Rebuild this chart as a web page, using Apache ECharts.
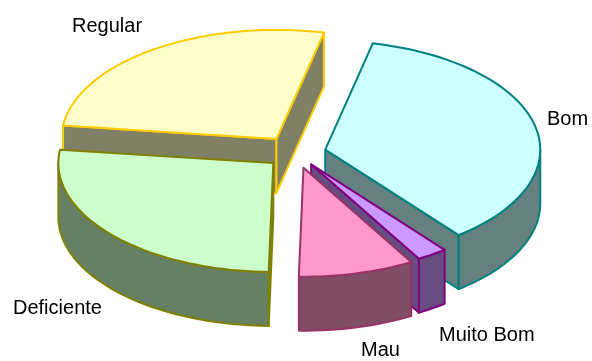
<!DOCTYPE html>
<html>
<head>
<meta charset="utf-8">
<style>html,body{margin:0;padding:0;background:#fff}#c{width:592px;height:361px}</style>
<script src="https://cdn.jsdelivr.net/npm/echarts@6/dist/echarts.min.js"></script>
</head>
<body>
<div id="c"></div>
<script>
// Drawn back to front, clockwise from the start of "Regular"
const categories = ['Regular', 'Bom', 'Muito Bom', 'Mau', 'Deficiente'];
const shareValues = [26.6, 35.8, 2.3, 8.7, 26.6];

const topColors = ['#FFFFCC', '#CCFFFF', '#CC99FF', '#FF99CC', '#CCFFCC'];
const sideColors = ['#808066', '#668080', '#664C80', '#804C66', '#668066'];
const edgeColors = ['#FFCC00', '#008080', '#800080', '#993366', '#808000'];
const explodeBy = [34, 30, 27, 30, 30];
const labelAt = [[72, 26], [547, 119], [439, 335], [361, 350], [13, 308]];

const START_DEG = 277, CX = 296, CY = 153, RX = 215, RY = 109, DEPTH = 54;
const total = shareValues.reduce((a, b) => a + b, 0);
const rad = d => d * Math.PI / 180;

function renderItem(params, api) {
  const i = params.dataIndex;
  let before = 0;
  for (let j = 0; j < i; j++) before += shareValues[j];
  let a0 = START_DEG + before / total * 360;
  let a1 = a0 + api.value(0) / total * 360;
  if (a0 >= 360) { a0 -= 360; a1 -= 360; }
  const mid = (a0 + a1) / 2;
  const ax = CX + Math.sin(rad(mid)) * explodeBy[i];
  const ay = CY - Math.cos(rad(mid)) * explodeBy[i] * RY / RX;
  const pt = a => [ax + Math.sin(rad(a)) * RX, ay - Math.cos(rad(a)) * RY];
  const down = p => [p[0], p[1] + DEPTH];
  const arc = (s, e) => {
    const n = Math.max(2, Math.ceil((e - s) / 2));
    const out = [];
    for (let k = 0; k <= n; k++) out.push(pt(s + (e - s) * k / n));
    return out;
  };
  const apex = [ax, ay];
  const lw = 2;
  const face = (points, fill) => ({
    type: 'polygon',
    shape: { points },
    style: { fill, stroke: edgeColors[i], lineWidth: lw, lineJoin: 'round' }
  });
  const children = [];
  // radial walls, only when they face the viewer
  if (Math.sin(rad(a0)) < 0) {
    const p = pt(a0);
    children.push(face([apex, p, down(p), down(apex)], sideColors[i]));
  }
  if (Math.sin(rad(a1)) > 0) {
    const p = pt(a1);
    children.push(face([apex, p, down(p), down(apex)], sideColors[i]));
  }
  // outer wall: front half of the rim
  const ws = Math.max(a0, 90), we = Math.min(a1, 270);
  if (we > ws) {
    const rim = arc(ws, we);
    children.push(face(rim.concat(rim.slice().reverse().map(down)), sideColors[i]));
  }
  // top face
  children.push(face([apex].concat(arc(a0, a1)), topColors[i]));
  // label
  children.push({
    type: 'text',
    style: {
      text: categories[i],
      x: labelAt[i][0], y: labelAt[i][1],
      fill: '#000',
      font: '20px "Liberation Sans", Arial, sans-serif',
      align: 'left', verticalAlign: 'middle'
    }
  });
  return { type: 'group', children };
}

const chart = echarts.init(document.getElementById('c'), null, { renderer: 'canvas' });
chart.setOption({
  animation: false,
  backgroundColor: '#fff',
  series: [{
    type: 'custom',
    coordinateSystem: 'none',
    renderItem,
    silent: true,
    data: shareValues.map((v, i) => ({ name: categories[i], value: [v] }))
  }]
});
</script>
</body>
</html>
